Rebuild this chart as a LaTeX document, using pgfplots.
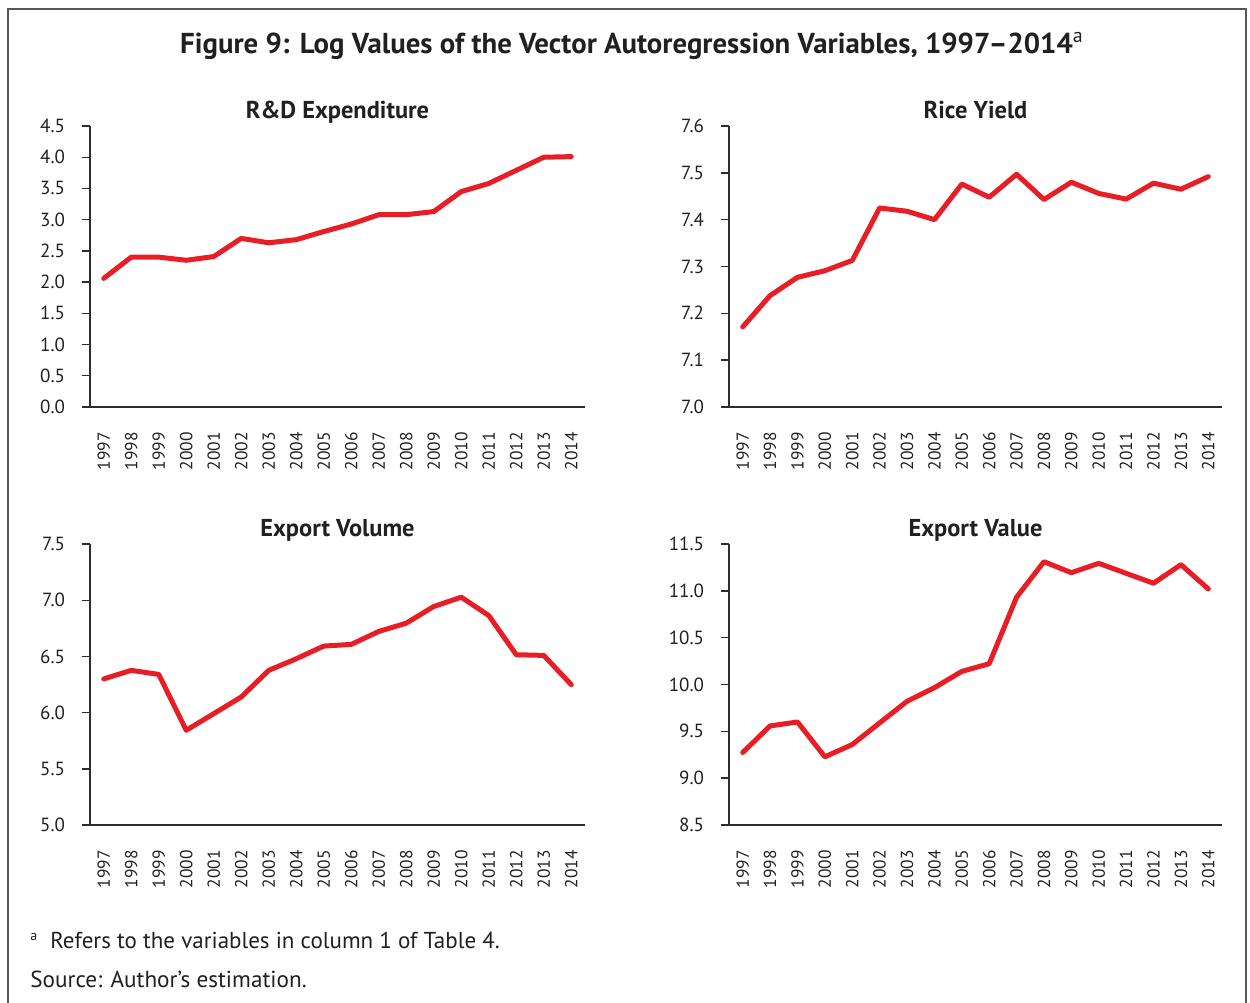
\documentclass[border=0pt]{standalone}
\usepackage{fontspec}
\setmainfont{PT Sans}
\usepackage{pgfplots}
\pgfplotsset{compat=1.18}
\definecolor{lred}{RGB}{232,30,38}
\definecolor{txt}{RGB}{35,31,32}
\definecolor{axc}{RGB}{45,45,45}
\pgfplotsset{
 panel/.style={
  scale only axis, width=247.5pt, height=140.5pt,
  axis x line*=bottom, axis y line*=left,
  axis line style={axc, line width=0.7pt},
  xmin=-0.5, xmax=17.5,
  xtick={0,...,17},
  xticklabels={1997,1998,1999,2000,2001,2002,2003,2004,2005,2006,2007,2008,2009,2010,2011,2012,2013,2014},
  x tick style={draw=none},
  major tick length=4pt,
  tick align=outside,
  y tick style={axc, line width=0.7pt},
  tick label style={font=\fontsize{9.5}{10}\selectfont, text=txt},
  xticklabel style={yshift=-5pt, rotate=90, anchor=east, font=\fontsize{8.7}{10}\selectfont},
  yticklabel style={xshift=-5pt, /pgf/number format/.cd, fixed, fixed zerofill, precision=1},
  /pgf/number format/assume math mode=true,
  title style={font=\bfseries\fontsize{12.2}{14}\selectfont, text=txt, at={(0.5,1)}, anchor=base, yshift=-2pt},
  every axis plot post/.style={draw=lred, line width=2.5pt, line join=round, line cap=round, mark=none},
  clip=false,
 }
}
\begin{document}
\begin{tikzpicture}
\begin{axis}[panel, at={(45pt,-203.5pt)}, anchor=south west, ymin=0, ymax=4.5, ytick={0,0.5,...,4.5}, title={R\&D Expenditure}]
\addplot table {
x y
0 2.06
1 2.40
2 2.40
3 2.35
4 2.41
5 2.70
6 2.63
7 2.68
8 2.81
9 2.93
10 3.08
11 3.08
12 3.13
13 3.45
14 3.58
15 3.79
16 4.00
17 4.01
};
\end{axis}
\begin{axis}[panel, width=246.5pt, at={(364.5pt,-203.5pt)}, anchor=south west, ymin=7.0, ymax=7.6, ytick={7.0,7.1,7.2,7.3,7.4,7.5,7.6}, title={Rice Yield}]
\addplot table {
x y
0 7.171
1 7.238
2 7.277
3 7.291
4 7.313
5 7.425
6 7.418
7 7.400
8 7.476
9 7.448
10 7.497
11 7.443
12 7.480
13 7.456
14 7.444
15 7.478
16 7.465
17 7.492
};
\end{axis}
\begin{axis}[panel, at={(45pt,-412.5pt)}, anchor=south west, ymin=5.0, ymax=7.5, ytick={5.0,5.5,6.0,6.5,7.0,7.5}, title={Export Volume}]
\addplot table {
x y
0 6.30
1 6.376
2 6.34
3 5.843
4 5.991
5 6.139
6 6.376
7 6.479
8 6.592
9 6.607
10 6.722
11 6.796
12 6.944
13 7.027
14 6.864
15 6.515
16 6.509
17 6.249
};
\end{axis}
\begin{axis}[panel, width=246.5pt, at={(364.5pt,-412.5pt)}, anchor=south west, ymin=8.5, ymax=11.5, ytick={8.5,9.0,9.5,10.0,10.5,11.0,11.5}, title={Export Value}]
\addplot table {
x y
0 9.274
1 9.558
2 9.600
3 9.228
4 9.359
5 9.590
6 9.821
7 9.966
8 10.140
9 10.222
10 10.932
11 11.311
12 11.194
13 11.294
14 11.187
15 11.081
16 11.280
17 11.020
};
\end{axis}
\draw[axc!80, line width=0.75pt] (4pt,-501.5pt) -- (4pt,-4.5pt) -- (623pt,-4.5pt) -- (623pt,-501.5pt);
\node[anchor=base, text=txt, font=\fontsize{14.4}{16}\selectfont] at (316pt,-26.5pt) {\textbf{Figure 9:} \textbf{Log Values of the Vector Autoregression Variables, 1997–2014}\textsuperscript{a}};
\node[anchor=base west, inner sep=0pt, text=txt, font=\fontsize{7}{8}\selectfont] at (15pt,-470pt) {a};
\node[anchor=base west, inner sep=0pt, text=txt, font=\fontsize{11.5}{13}\selectfont] at (25pt,-474pt) {Refers to the variables in column 1 of Table 4.};
\node[anchor=base west, inner sep=0pt, text=txt, font=\fontsize{11.6}{13}\selectfont] at (15pt,-493.5pt) {Source: Author’s estimation.};
\pgfresetboundingbox
\useasboundingbox (0pt,0pt) rectangle (625pt,-501.5pt);
\end{tikzpicture}
\end{document}
